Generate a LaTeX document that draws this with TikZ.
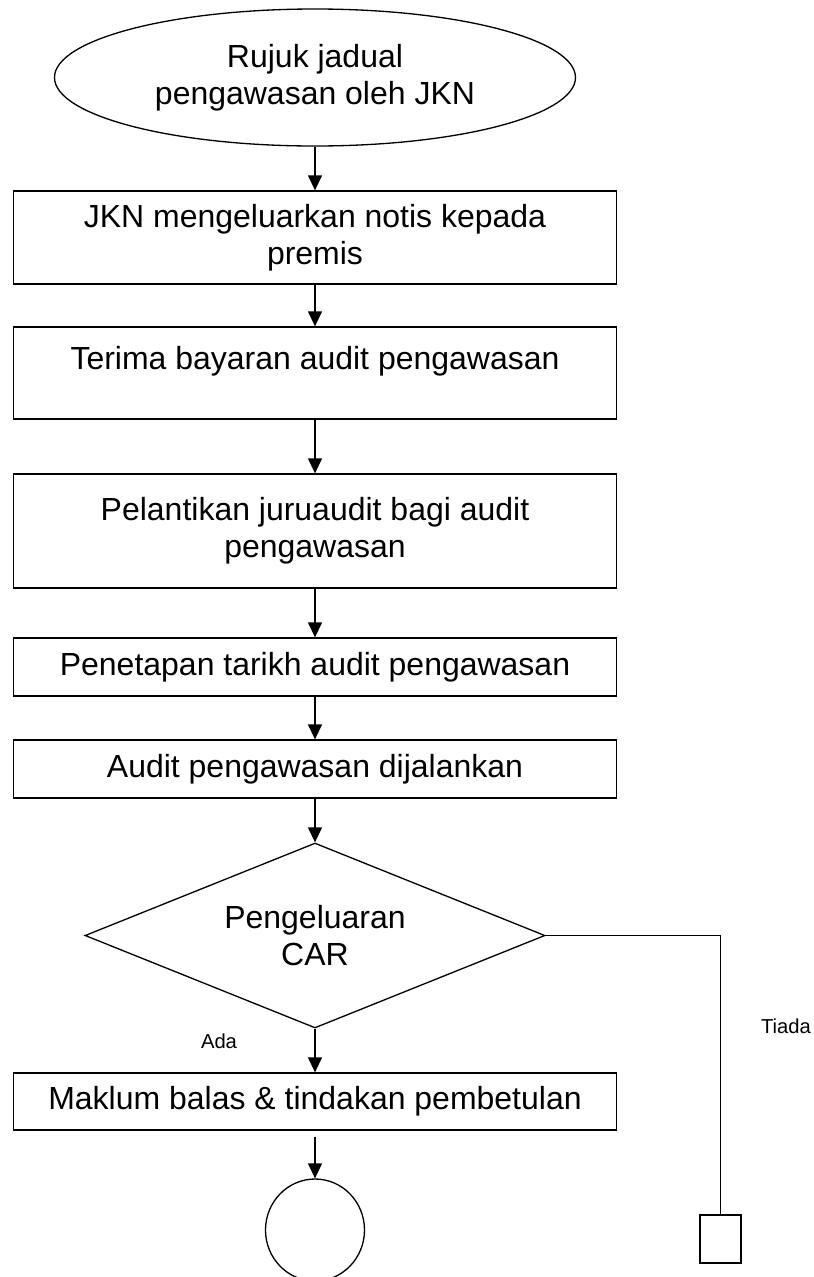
\documentclass[tikz,border=0pt]{standalone}
\usepackage{fontspec}
\setmainfont{Liberation Sans}
\usetikzlibrary{shapes.geometric,arrows.meta}

\begin{document}
\begin{tikzpicture}[>={Triangle[length=0.3cm,width=0.28cm]}, line width=0.75pt,
  teks/.style={align=center, inner sep=0pt, font=\fontsize{18.2}{21}\selectfont},
  kotak/.style={teks, draw, rectangle, minimum width=12.06cm},
  kecil/.style={font=\fontsize{11.5}{13}\selectfont}]

\useasboundingbox (0,0) rectangle (16.28,-25.54);

\node[teks, draw, ellipse, minimum width=10.42cm, minimum height=2.74cm] (rujuk) at (6.3,-1.55) {Rujuk jadual\\pengawasan oleh JKN};
\node[kotak, minimum height=1.86cm] (notis) at (6.3,-4.75) {JKN mengeluarkan notis kepada\\premis};
\node[kotak, minimum height=1.84cm, text depth=0.6cm] (bayar) at (6.3,-7.46) {Terima bayaran audit pengawasan};
\node[kotak, minimum height=2.28cm] (lantik) at (6.3,-10.62) {Pelantikan juruaudit bagi audit\\pengawasan};
\node[kotak, minimum height=1.16cm] (tarikh) at (6.3,-13.34) {Penetapan tarikh audit pengawasan};
\node[kotak, minimum height=1.16cm] (audit) at (6.3,-15.38) {Audit pengawasan dijalankan};
\node[teks, draw, diamond, aspect=2.5, minimum width=9.2cm, minimum height=3.7cm] (car) at (6.3,-18.71) {Pengeluaran\\CAR};
\node[kotak, minimum height=1.14cm] (maklum) at (6.3,-22.03) {Maklum balas \& tindakan pembetulan};
\node[draw, ellipse, minimum width=1.98cm, minimum height=2.04cm] (tamat) at (6.3,-24.6) {};
\node[draw, rectangle, minimum width=0.82cm, minimum height=0.96cm] (sambung) at (14.41,-24.78) {};

\node[kecil] (ada) at (4.38,-20.82) {Ada};
\node[kecil] (tiada) at (15.72,-20.52) {Tiada};

\draw[->] (rujuk) -- (notis);
\draw[->] (notis) -- (bayar);
\draw[->] (bayar) -- (lantik);
\draw[->] (lantik) -- (tarikh);
\draw[->] (tarikh) -- (audit);
\draw[->] (audit) -- (car);
\draw[->] (car) -- (maklum);
\draw[->, shorten <=0.12cm] (maklum) -- (tamat);
\draw (car.east) -| (sambung.north);

\end{tikzpicture}
\end{document}
